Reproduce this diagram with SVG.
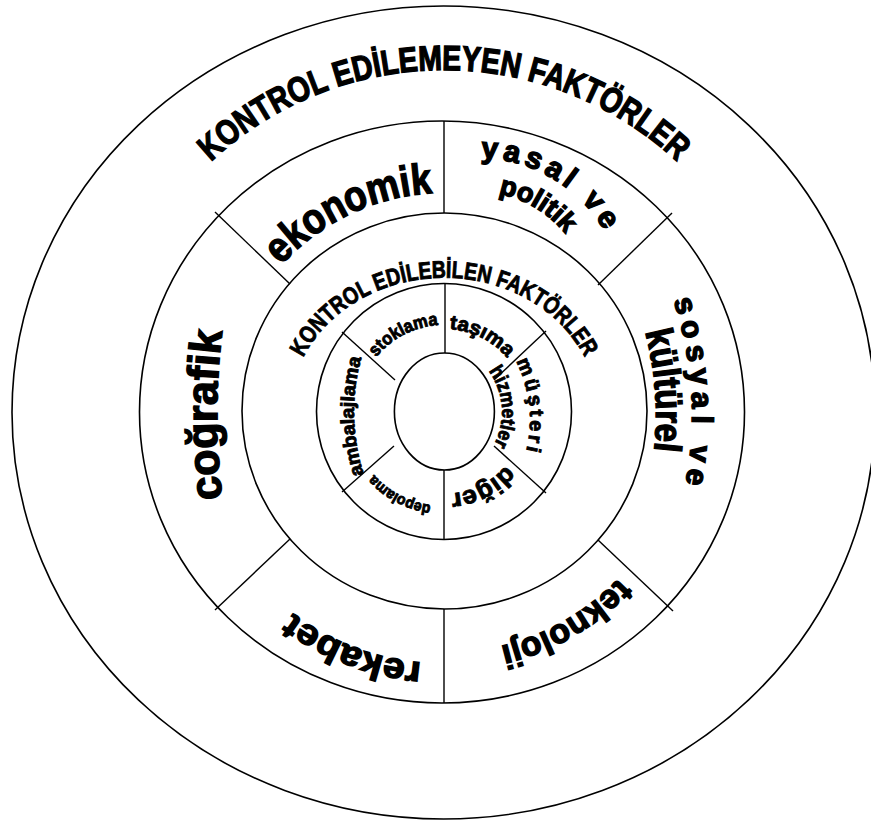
<svg xmlns="http://www.w3.org/2000/svg" xmlns:xlink="http://www.w3.org/1999/xlink" width="871" height="821" viewBox="0 0 871 821">
<style>
.ring{fill:none;stroke:#000;stroke-width:1.6}
.div{stroke:#000;stroke-width:1.4}
.t{font-family:"Liberation Sans",Arial,Helvetica,sans-serif;font-weight:bold;fill:#000;stroke:#000;stroke-width:0.9;text-anchor:middle}
.h{stroke-width:1.4}
</style>
<defs>
<path id="pTitleOut" d="M107.2,352.6 A342,342 0 0 1 780.8,352.6"/>
<path id="pEko" d="M233.0,470.5 A219,219 0 0 1 622.3,284.8"/>
<path id="pYasal" d="M367.0,209.2 A146,146 0 0 1 614.8,355.1"/>
<path id="pPol" d="M393.5,230.5 A112,112 0 0 1 582.6,344.1"/>
<path id="pSos" d="M490.1,90.3 A362,362 0 0 1 531.1,716.0"/>
<path id="pKul" d="M471.6,121.4 A326,326 0 0 1 513.5,684.5"/>
<path id="pCog" d="M308.0,754.0 A678,678 0 0 1 308.0,76.0"/>
<path id="pRek" d="M659.9,541.7 A252,252 0 0 1 196.6,364.0"/>
<path id="pTek" d="M670.5,329.6 A241,241 0 0 1 259.4,566.9"/>
<path id="pTitleIn" d="M292.3,388.7 A154,134 0 0 1 595.7,388.7"/>
<path id="pStok" d="M361.0,438.2 A87,87 0 0 1 513.0,359.0"/>
<path id="pTas" d="M377.3,362.6 A83,83 0 0 1 523.6,435.6"/>
<path id="pMus" d="M430.1,293.5 A130,130 0 0 1 458.2,536.2"/>
<path id="pHiz" d="M449.1,348.2 A58,64 0 0 1 459.0,473.8"/>
<path id="pDig" d="M522.4,388.0 A82,82 0 0 1 378.5,461.3"/>
<path id="pDep" d="M518.1,469.9 A94,94 0 0 1 354.6,383.0"/>
<path id="pAmb" d="M404.3,545.7 A203,203 0 0 1 398.8,284.8"/>
</defs>
<rect width="871" height="821" fill="#fff"/>
<g id="rings">
<ellipse class="ring" cx="443.5" cy="412.5" rx="431.5" ry="406.5"/>
<ellipse class="ring" cx="442" cy="412" rx="302.5" ry="291"/>
<ellipse class="ring" cx="444.5" cy="411" rx="202.5" ry="198"/>
<ellipse class="ring" cx="444" cy="411.5" rx="127.5" ry="128"/>
<ellipse class="ring" cx="444.4" cy="411.5" rx="50" ry="58.5"/>
</g>
<g id="connectors">
<line class="div" x1="444" y1="121" x2="444" y2="213"/>
<line class="div" x1="215" y1="212" x2="290" y2="284"/>
<line class="div" x1="672" y1="213" x2="598" y2="285"/>
<line class="div" x1="290" y1="539" x2="215" y2="610"/>
<line class="div" x1="598" y1="540" x2="673" y2="611"/>
<line class="div" x1="444" y1="609" x2="444" y2="703"/>
<line class="div" x1="445" y1="283" x2="445" y2="353"/>
<line class="div" x1="342" y1="332" x2="395" y2="380"/>
<line class="div" x1="546" y1="331" x2="494" y2="380"/>
<line class="div" x1="394" y1="446" x2="342" y2="492"/>
<line class="div" x1="494" y1="446" x2="546" y2="493"/>
<line class="div" x1="444" y1="470" x2="444" y2="540"/>
</g>
<g id="kontrol-edilemeyen">
<text class="t h" font-size="35"><textPath href="#pTitleOut" xlink:href="#pTitleOut" startOffset="50%" textLength="513" lengthAdjust="spacingAndGlyphs">KONTROL EDİLEMEYEN FAKTÖRLER</textPath></text>
</g>
<g id="ekonomik">
<text class="t h" font-size="43"><textPath href="#pEko" xlink:href="#pEko" startOffset="50%" textLength="172" lengthAdjust="spacingAndGlyphs">ekonomik</textPath></text>
</g>
<g id="yasal-politik">
<text class="t h" font-size="30"><textPath href="#pYasal" xlink:href="#pYasal" startOffset="50%" textLength="150" lengthAdjust="spacing">yasal ve</textPath></text>
<text class="t h" font-size="27"><textPath href="#pPol" xlink:href="#pPol" startOffset="50%" textLength="80" lengthAdjust="spacingAndGlyphs">politik</textPath></text>
</g>
<g id="sosyal-kulturel">
<text class="t h" font-size="30"><textPath href="#pSos" xlink:href="#pSos" startOffset="50%" textLength="186" lengthAdjust="spacing">sosyal ve</textPath></text>
<text class="t h" font-size="38"><textPath href="#pKul" xlink:href="#pKul" startOffset="50%" textLength="120" lengthAdjust="spacingAndGlyphs">kültürel</textPath></text>
</g>
<g id="teknoloji">
<text class="t h" font-size="34"><textPath href="#pTek" xlink:href="#pTek" startOffset="50%" textLength="139" lengthAdjust="spacingAndGlyphs">teknoloji</textPath></text>
</g>
<g id="rekabet">
<text class="t h" font-size="36"><textPath href="#pRek" xlink:href="#pRek" startOffset="50%" textLength="140" lengthAdjust="spacingAndGlyphs">rekabet</textPath></text>
</g>
<g id="cografik">
<text class="t h" font-size="44"><textPath href="#pCog" xlink:href="#pCog" startOffset="50%" textLength="168" lengthAdjust="spacingAndGlyphs">coğrafik</textPath></text>
</g>
<g id="kontrol-edilebilen">
<text class="t" font-size="24"><textPath href="#pTitleIn" xlink:href="#pTitleIn" startOffset="50%" textLength="340" lengthAdjust="spacingAndGlyphs">KONTROL EDİLEBİLEN FAKTÖRLER</textPath></text>
</g>
<g id="stoklama">
<text class="t" font-size="18"><textPath href="#pStok" xlink:href="#pStok" startOffset="50%" textLength="72" lengthAdjust="spacingAndGlyphs">stoklama</textPath></text>
</g>
<g id="tasima">
<text class="t" font-size="20"><textPath href="#pTas" xlink:href="#pTas" startOffset="50%" textLength="66" lengthAdjust="spacingAndGlyphs">taşıma</textPath></text>
</g>
<g id="musteri-hizmetler">
<text class="t" font-size="20"><textPath href="#pMus" xlink:href="#pMus" startOffset="50%" textLength="92" lengthAdjust="spacing">müşteri</textPath></text>
<text class="t" font-size="20"><textPath href="#pHiz" xlink:href="#pHiz" startOffset="50%" textLength="78" lengthAdjust="spacingAndGlyphs">hizmetler</textPath></text>
</g>
<g id="diger">
<text class="t" font-size="25"><textPath href="#pDig" xlink:href="#pDig" startOffset="50%" textLength="64" lengthAdjust="spacingAndGlyphs">diğer</textPath></text>
</g>
<g id="depolama">
<text class="t" font-size="15"><textPath href="#pDep" xlink:href="#pDep" startOffset="50%" textLength="66" lengthAdjust="spacingAndGlyphs">depolama</textPath></text>
</g>
<g id="ambalajlama">
<text class="t" font-size="19"><textPath href="#pAmb" xlink:href="#pAmb" startOffset="50%" textLength="118" lengthAdjust="spacingAndGlyphs">ambalajlama</textPath></text>
</g>
</svg>
